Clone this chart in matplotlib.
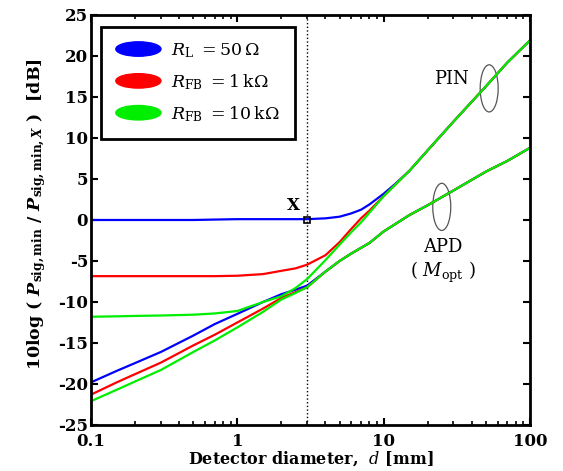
import numpy as np
import matplotlib
matplotlib.use("Agg")
import matplotlib.pyplot as plt
import matplotlib.patches as mpatches
from matplotlib.legend_handler import HandlerPatch

plt.rcParams['font.family'] = ['DejaVu Serif']
plt.rcParams['mathtext.fontset'] = 'dejavuserif'
plt.rcParams['axes.unicode_minus'] = False

# detector diameter grid [mm]
d = [0.1, 0.15, 0.2, 0.3, 0.5, 0.7, 1, 1.5, 2, 2.5, 3, 4, 5, 6, 7, 8,
     10, 12, 15, 20, 30, 50, 70, 100]

# PIN receivers
pin_50 = [0, 0, 0, 0, 0, 0.05, 0.1, 0.1, 0.1, 0.1, 0.1, 0.2, 0.4, 0.8,
          1.25, 1.9, 3.2, 4.4, 6.0, 8.5, 12.0, 16.3, 19.2, 21.9]
pin_1k = [-6.85, -6.85, -6.85, -6.85, -6.85, -6.85, -6.8, -6.6, -6.2, -5.9,
          -5.45, -4.3, -2.7, -1.1, 0.2, 1.15, 2.9, 4.3, 6.0, 8.5, 12.0,
          16.3, 19.2, 21.9]
pin_10k = [-11.8, -11.75, -11.7, -11.65, -11.55, -11.4, -11.1, -10.0, -9.3,
           -8.3, -7.2, -4.9, -3.0, -1.5, -0.3, 0.9, 2.9, 4.3, 6.0, 8.5,
           12.0, 16.3, 19.2, 21.9]

# APD receivers (M_opt)
apd_50 = [-19.8, -18.4, -17.45, -16.1, -14.1, -12.7, -11.45, -10.0, -9.05,
          -8.5, -8.0, -6.3, -5.0, -4.1, -3.4, -2.8, -1.4, -0.5, 0.6, 1.8,
          3.6, 5.9, 7.2, 8.8]
apd_1k = [-21.3, -19.8, -18.8, -17.4, -15.3, -14.0, -12.5, -10.8, -9.5,
          -8.8, -8.2, -6.3, -5.0, -4.1, -3.4, -2.8, -1.4, -0.5, 0.6, 1.8,
          3.6, 5.9, 7.2, 8.8]
apd_10k = [-22.1, -20.7, -19.7, -18.3, -16.1, -14.7, -13.1, -11.2, -9.7,
           -8.9, -8.2, -6.3, -5.0, -4.1, -3.4, -2.8, -1.4, -0.5, 0.6, 1.8,
           3.6, 5.9, 7.2, 8.8]

labels = [r'$R_{\rm L}\ = 50\,\Omega$', r'$R_{\rm FB}\ = 1\,{\rm k}\Omega$',
          r'$R_{\rm FB}\ = 10\,{\rm k}\Omega$']
colors = ['#0000ff', '#ff0000', '#00ee00']
d_x = 3.0


class HandlerEllipse(HandlerPatch):
    def create_artists(self, legend, orig_handle, xdescent, ydescent,
                       width, height, fontsize, trans):
        center = 0.5 * width - 0.5 * xdescent, 0.5 * height - 0.5 * ydescent
        p = mpatches.Ellipse(xy=center, width=width, height=height)
        self.update_prop(p, orig_handle, legend)
        p.set_transform(trans)
        return [p]


fig = plt.figure(figsize=(5.63, 4.71), dpi=100)
ax = fig.add_axes([0.1616, 0.0977, 0.7798, 0.8705])

ax.axvline(d_x, color='k', ls=':', lw=1)

for pin, apd, c in zip([pin_50, pin_1k, pin_10k], [apd_50, apd_1k, apd_10k], colors):
    ax.plot(d, pin, color=c, lw=1.6)
    ax.plot(d, apd, color=c, lw=1.6)

ax.plot(d_x, 0, 's', mfc='none', mec='k', ms=4.5, mew=1.2, zorder=5)
ax.annotate('X', xy=(d_x, 0), xytext=(-5, 4), textcoords='offset points',
            ha='right', va='bottom', fontsize=12, fontweight='bold')

ax.set_xscale('log')
ax.set_xlim(0.1, 100)
ax.set_ylim(-25, 25)
ax.set_yticks(np.arange(-25, 26, 5))
ax.set_xticks([0.1, 1, 10, 100])
ax.set_xticklabels(['0.1', '1', '10', '100'])

for lab in ax.get_xticklabels() + ax.get_yticklabels():
    lab.set_fontweight('bold')
    lab.set_fontsize(12)

ax.tick_params(which='both', direction='in', top=True, right=True)
ax.tick_params(which='major', length=5, width=1.5)
ax.tick_params(axis='x', which='major', pad=5.5)
ax.tick_params(axis='y', which='major', pad=2)
ax.tick_params(which='minor', length=3, width=1.2)
for s in ax.spines.values():
    s.set_linewidth(2)

ax.set_xlabel(r'Detector diameter,  $d$ [mm]', fontsize=11.5,
              fontweight='bold', labelpad=0)
ax.set_ylabel(r'10log ( $\mathbfit{P}_{\mathbf{sig,min}}$ / '
              r'$\mathbfit{P}_{\mathbf{sig,min,}\mathbfit{X}}$ )  [dB]',
              fontsize=12.5, fontweight='bold')
ax.yaxis.set_label_coords(-0.097, 0.515)

# curve family labels with ellipse markers
ax.add_patch(mpatches.Ellipse((0.907, 0.821), 0.041, 0.115, transform=ax.transAxes,
                              fill=False, ec='#555555', lw=0.9))
ax.text(0.82, 0.845, 'PIN', transform=ax.transAxes, fontsize=13,
        ha='center', va='center')
ax.add_patch(mpatches.Ellipse((0.799, 0.532), 0.041, 0.115, transform=ax.transAxes,
                              fill=False, ec='#555555', lw=0.9))
ax.text(0.802, 0.434, 'APD', transform=ax.transAxes, fontsize=13,
        ha='center', va='center')
ax.text(0.802, 0.373, r'( $M_{\rm opt}$ )', transform=ax.transAxes, fontsize=13,
        ha='center', va='center')

handles = [mpatches.Patch(color=c) for c in colors]
leg = ax.legend(handles, labels, loc='upper left', bbox_to_anchor=(0.023, 0.971),
                borderaxespad=0, fontsize=12.5, fancybox=False, framealpha=1,
                edgecolor='k', handlelength=2.6, handleheight=0.9,
                handletextpad=0.6, labelspacing=0.7, borderpad=0.85,
                handler_map={mpatches.Patch: HandlerEllipse()})
leg.get_frame().set_linewidth(2)

fig.savefig('out.png', dpi=100)
